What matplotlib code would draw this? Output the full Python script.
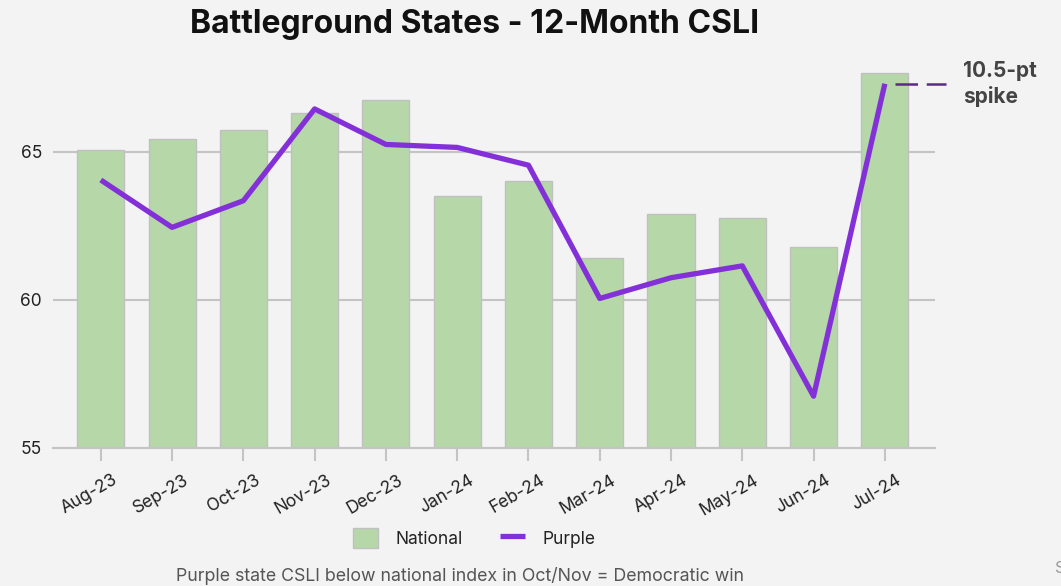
import matplotlib.pyplot as plt
import matplotlib.transforms as mtransforms
import numpy as np

# data
months = ["Aug-23", "Sep-23", "Oct-23", "Nov-23", "Dec-23", "Jan-24",
          "Feb-24", "Mar-24", "Apr-24", "May-24", "Jun-24", "Jul-24"]
national = [65.05, 65.45, 65.75, 66.3, 66.75, 63.5, 64.0, 61.4, 62.9, 62.75, 61.8, 67.65]
purple = [64.05, 62.45, 63.35, 66.45, 65.25, 65.15, 64.55, 60.05, 60.75, 61.15, 56.75, 67.3]
yticks = [55, 60, 65]
note = "10.5-pt\nspike"
caption = "Purple state CSLI below national index in Oct/Nov = Democratic win"

plt.rcParams['font.family'] = ['Inter', 'DejaVu Sans']
bg = "#f3f3f3"

fig = plt.figure(figsize=(10.61, 5.86), dpi=100, facecolor=bg)
ax = fig.add_axes([0.05, 0.2355, 0.831, 0.662])
ax.set_facecolor(bg)

x = np.arange(len(months))
bars = ax.bar(x, national, width=0.66, color="#b6d7a8", edgecolor="#c0c0c0",
              linewidth=1, label="National", zorder=2)
line, = ax.plot(x, purple, color="#8430d8", linewidth=3.8, label="Purple", zorder=3,
                solid_capstyle="butt")

ax.set_ylim(55, 68.1)
ax.set_xlim(-0.67, 11.7)
ax.set_yticks(yticks)
ax.set_yticklabels([str(t) for t in yticks], fontsize=12.5, color="#222222")
ax.yaxis.grid(True, color="#c4c4c4", linewidth=1.5, zorder=0)
ax.tick_params(axis="y", length=0, pad=8)

ax.set_xticks(x)
ax.set_xticklabels(months, rotation=30, ha="right", rotation_mode="anchor",
                   fontsize=12.5, color="#222222")
ax.tick_params(axis="x", length=9, width=1.5, color="#c4c4c4", pad=6)
# nudge labels a little right, as in the reference
offset = mtransforms.ScaledTranslation(8 / 72, -2 / 72, fig.dpi_scale_trans)
for lab in ax.get_xticklabels():
    lab.set_transform(lab.get_transform() + offset)

for s in ["top", "right", "left"]:
    ax.spines[s].set_visible(False)
ax.spines["bottom"].set_color("#c4c4c4")
ax.spines["bottom"].set_linewidth(1.5)

# dashed callout for the last month
ax.plot([11.14, 11.86], [purple[-1], purple[-1]], color="#5a2a8a", linewidth=1.8,
        dashes=(9, 3.5), clip_on=False, zorder=4)
ax.text(12.1, purple[-1] + 0.0, note, fontsize=15, fontweight="bold", color="#444444",
        va="center", ha="left", linespacing=1.3, clip_on=False)

fig.text(0.447, 0.958, "Battleground States - 12-Month CSLI", ha="center", va="center",
         fontsize=23, fontweight="bold", color="#111111")

leg = fig.legend([bars, line], ["National", "Purple"], loc="center",
                 bbox_to_anchor=(0.447, 0.082), ncol=2, frameon=False,
                 fontsize=12.5, handlelength=1.4, handleheight=1.4, columnspacing=2.2,
                 handletextpad=1.0)
for t in leg.get_texts():
    t.set_color("#222222")

fig.text(0.434, 0.017, caption, ha="center", va="center", fontsize=12.8, color="#555555")
fig.text(0.994, 0.03, "Source", ha="left", va="center", fontsize=12, color="#999999")

fig.savefig("out.png", dpi=100, facecolor=bg)
